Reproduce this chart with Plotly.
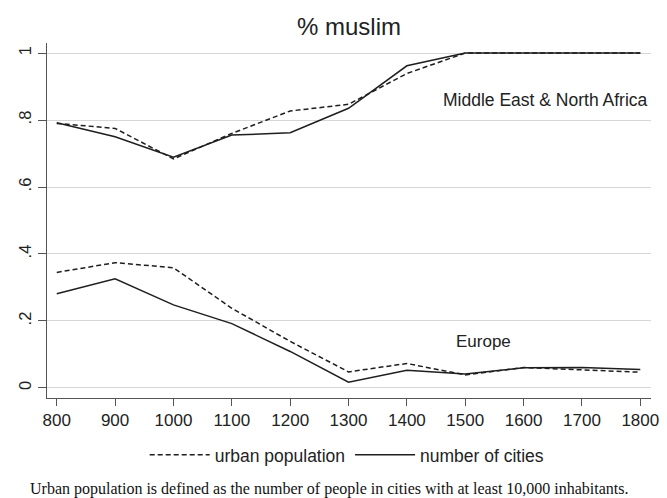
import plotly.graph_objects as go

years = [800, 900, 1000, 1100, 1200, 1300, 1400, 1500, 1600, 1700, 1800]

mena_urban_pop = [0.790, 0.775, 0.684, 0.760, 0.827, 0.847, 0.939, 1.0, 1.0, 1.0, 1.0]
mena_num_cities = [0.792, 0.750, 0.689, 0.755, 0.762, 0.835, 0.962, 1.0, 1.0, 1.0, 1.0]

europe_urban_pop = [0.345, 0.374, 0.359, 0.238, 0.139, 0.048, 0.073, 0.039, 0.061, 0.053, 0.047]
europe_num_cities = [0.281, 0.326, 0.248, 0.192, 0.109, 0.017, 0.053, 0.042, 0.060, 0.061, 0.055]

y_tickvals = [0, 0.2, 0.4, 0.6, 0.8, 1]
y_ticktext = ["0", ".2", ".4", ".6", ".8", "1"]
x_tickvals = years

line_color = "#1e1e1e"
font_family = "Liberation Sans, Arial, sans-serif"

# The page body adds an 8px margin, so the figure is sized to fill the rest.
W, H = 659, 490

fig = go.Figure()

fig.add_trace(go.Scatter(x=years, y=mena_urban_pop, mode="lines", name="urban population",
                         line=dict(color=line_color, width=1.5, dash="5px,3px"),
                         legendgroup="urban"))
fig.add_trace(go.Scatter(x=years, y=mena_num_cities, mode="lines", name="number of cities",
                         line=dict(color=line_color, width=1.5),
                         legendgroup="cities"))
fig.add_trace(go.Scatter(x=years, y=europe_urban_pop, mode="lines", name="urban population",
                         line=dict(color=line_color, width=1.5, dash="5px,3px"),
                         legendgroup="urban", showlegend=False))
fig.add_trace(go.Scatter(x=years, y=europe_num_cities, mode="lines", name="number of cities",
                         line=dict(color=line_color, width=1.5),
                         legendgroup="cities", showlegend=False))

fig.update_layout(
    width=W, height=H,
    margin=dict(l=30, r=8, t=35, b=100),
    paper_bgcolor="white", plot_bgcolor="white",
    font=dict(family=font_family, color="#222222"),
    title=dict(text="% muslim", x=0.5, xref="paper", xanchor="center",
               y=1 - 19 / H, yref="container", yanchor="middle",
               font=dict(size=24, color="#222222", family=font_family)),
    showlegend=True,
    legend=dict(orientation="h", x=0.497, xanchor="center", y=-0.16, yanchor="middle",
                font=dict(size=17.5, color="#222222"), bgcolor="rgba(0,0,0,0)",
                itemwidth=60, tracegroupgap=0),
)

fig.update_xaxes(
    range=[783.3, 1818.3], tickvals=x_tickvals,
    showgrid=False, zeroline=False,
    showline=True, linecolor="#555555", linewidth=1,
    ticks="outside", ticklen=7, tickcolor="#555555", tickwidth=1,
    tickfont=dict(size=17, color="#222222"),
)
fig.update_yaxes(
    range=[-0.03, 1.03], tickvals=y_tickvals, ticktext=y_ticktext,
    showgrid=True, gridcolor="#d6d6d6", gridwidth=1, zeroline=False,
    showline=True, linecolor="#555555", linewidth=1,
    ticks="outside", ticklen=8, tickcolor="#555555", tickwidth=1,
    tickangle=-90, tickfont=dict(size=16.5, color="#222222"),
)

fig.add_annotation(x=1817, y=0.86, xref="x", yref="y", text="Middle East & North Africa",
                   showarrow=False, xanchor="right", yanchor="middle",
                   font=dict(size=17.5, color="#222222"))
fig.add_annotation(x=1532, y=0.138, xref="x", yref="y", text="Europe",
                   showarrow=False, xanchor="center", yanchor="middle",
                   font=dict(size=17, color="#222222"))
fig.add_annotation(x=-0.032, y=-0.256, xref="paper", yref="paper",
                   text="Urban population is defined as the number of people in cities with at least 10,000 inhabitants.",
                   showarrow=False, xanchor="left", yanchor="middle",
                   font=dict(size=16, color="#111111", family="Liberation Serif, Times New Roman, serif"))

fig.write_html("out.html")
